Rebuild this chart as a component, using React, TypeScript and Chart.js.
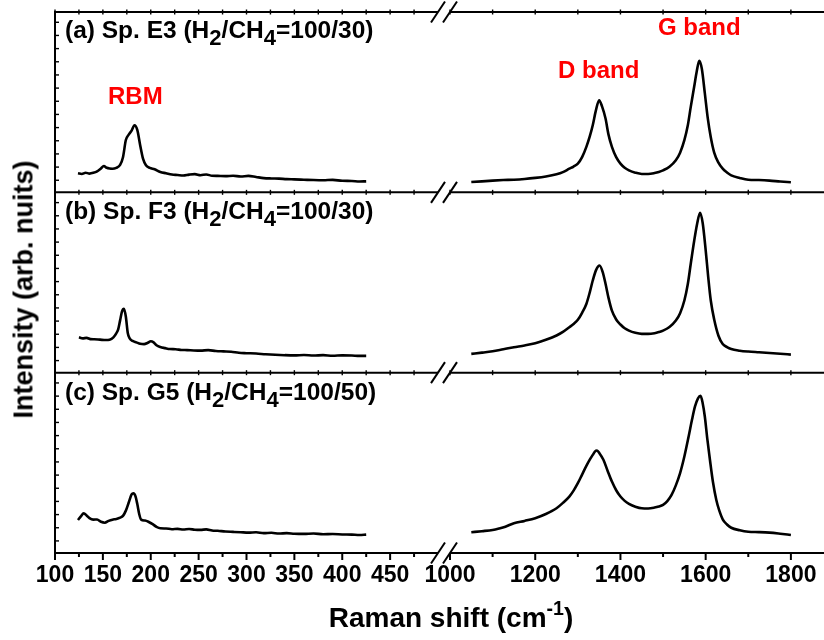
import React, { useEffect, useRef } from 'react';
import { Chart, registerables } from 'chart.js';

Chart.register(...registerables);

// ---------- data (Raman shift in cm-1, intensity in arbitrary units) ----------
// Panel (a) Sp. E3 - low-frequency (RBM) region
const aLowShift = [124, 128, 132, 136, 140, 144, 148, 151, 154, 157, 160, 164, 168, 171, 174, 177, 180, 183, 186, 189, 192, 195, 199, 204, 210, 216, 222, 228, 234, 240, 246, 252, 258, 264, 270, 278, 286, 294, 302, 310, 318, 326, 334, 342, 350, 360, 370, 380, 390, 400, 410, 418, 425];
const aLowInt = [10.6, 10.2, 10.9, 10.4, 10.8, 11.6, 13.2, 14.6, 13.6, 13.2, 13.1, 13.6, 15.2, 19.5, 29.0, 32.0, 34.2, 37.2, 34.5, 26.0, 18.5, 15.0, 13.6, 12.8, 11.3, 10.6, 9.9, 9.6, 9.3, 9.8, 10.1, 9.5, 9.9, 9.2, 9.1, 9.0, 9.2, 8.8, 9.1, 8.5, 7.9, 7.7, 7.6, 7.3, 7.2, 7.0, 6.8, 6.7, 6.9, 6.4, 6.3, 6.0, 6.1];
// Panel (a) - D and G band region
const aHighShift = [1050, 1075, 1100, 1125, 1150, 1175, 1200, 1225, 1250, 1265, 1280, 1290, 1300, 1310, 1320, 1328, 1335, 1342, 1350, 1357, 1365, 1372, 1380, 1390, 1400, 1410, 1420, 1435, 1450, 1465, 1480, 1490, 1500, 1515, 1530, 1540, 1550, 1558, 1565, 1573, 1579, 1585, 1591, 1598, 1605, 1612, 1620, 1630, 1640, 1650, 1660, 1680, 1700, 1725, 1750, 1775, 1800];
const aHighInt = [5.7, 6.1, 6.5, 6.8, 7.0, 7.4, 8.0, 8.8, 10.0, 11.2, 13.1, 14.3, 15.9, 19.5, 25.2, 31.0, 37.2, 45.0, 51.1, 47.5, 40.9, 32.0, 25.2, 19.5, 15.9, 13.6, 12.2, 10.9, 10.2, 10.2, 10.7, 11.3, 12.2, 14.2, 17.8, 22.0, 28.9, 37.0, 47.4, 58.5, 67.0, 73.0, 68.5, 55.0, 41.0, 30.5, 22.0, 16.5, 13.1, 11.0, 9.4, 8.0, 7.0, 6.8, 6.5, 6.0, 5.6];

// Panel (b) Sp. F3
const bLowShift = [125, 129, 133, 137, 141, 145, 149, 153, 157, 161, 164, 166, 168, 170, 172, 174, 176, 178, 181, 185, 189, 193, 197, 200, 203, 206, 210, 215, 220, 226, 232, 238, 245, 252, 260, 268, 276, 284, 292, 300, 310, 320, 330, 340, 350, 360, 370, 380, 390, 400, 410, 418, 425];
const bLowInt = [19.6, 19.0, 19.3, 18.6, 18.5, 18.4, 18.2, 18.1, 18.3, 19.6, 21.8, 24.0, 29.0, 34.0, 35.4, 31.0, 22.0, 19.0, 17.6, 16.8, 16.0, 15.8, 16.6, 17.4, 16.8, 15.2, 14.2, 13.6, 13.1, 13.0, 12.6, 12.5, 12.3, 12.2, 12.5, 12.0, 11.8, 11.6, 11.0, 10.8, 10.6, 10.2, 9.9, 9.7, 9.6, 9.8, 9.5, 9.7, 9.4, 9.6, 9.5, 9.3, 9.3];
const bHighShift = [1050, 1075, 1100, 1125, 1150, 1175, 1200, 1225, 1250, 1265, 1280, 1290, 1300, 1310, 1320, 1328, 1335, 1343, 1351, 1358, 1365, 1372, 1380, 1390, 1400, 1410, 1420, 1435, 1450, 1465, 1480, 1490, 1500, 1515, 1530, 1540, 1550, 1558, 1565, 1573, 1580, 1587, 1593, 1600, 1606, 1612, 1620, 1630, 1640, 1650, 1660, 1680, 1700, 1725, 1750, 1775, 1800];
const bHighInt = [10.4, 11.1, 11.9, 13.0, 14.1, 15.1, 16.3, 18.2, 20.6, 22.6, 25.2, 27.0, 29.3, 33.2, 38.1, 44.5, 51.1, 57.0, 59.4, 56.0, 49.3, 41.5, 34.4, 29.5, 26.7, 24.6, 23.3, 22.1, 21.5, 21.5, 21.9, 22.5, 23.3, 25.3, 28.9, 33.0, 40.0, 49.0, 60.4, 73.0, 82.6, 88.7, 83.0, 68.0, 53.0, 40.0, 29.5, 20.5, 15.9, 14.2, 13.1, 12.2, 11.7, 11.3, 10.9, 10.5, 10.0];

// Panel (c) Sp. G5
const cLowShift = [124, 127, 130, 133, 136, 140, 144, 148, 152, 156, 160, 164, 168, 171, 174, 177, 180, 182, 184, 186, 188, 190, 194, 198, 202, 206, 210, 216, 222, 228, 234, 240, 246, 252, 258, 264, 270, 278, 286, 294, 302, 310, 318, 326, 334, 342, 350, 360, 370, 380, 390, 400, 410, 418, 425];
const cLowInt = [18.3, 20.3, 22.0, 20.8, 19.3, 18.5, 18.6, 17.3, 16.8, 17.8, 18.5, 18.9, 19.6, 20.6, 23.5, 28.0, 32.5, 33.1, 31.5, 27.0, 21.5, 18.5, 18.0, 17.2, 16.0, 14.5, 13.7, 13.6, 13.2, 13.4, 13.0, 13.3, 12.9, 12.8, 13.1, 12.5, 12.3, 11.9, 11.7, 11.5, 11.3, 11.5, 11.0, 11.2, 10.8, 11.0, 10.7, 10.6, 10.8, 10.4, 10.5, 10.3, 10.2, 10.0, 10.2];
const cHighShift = [1050, 1075, 1100, 1115, 1130, 1150, 1175, 1200, 1225, 1250, 1265, 1280, 1290, 1300, 1310, 1320, 1328, 1335, 1340, 1345, 1351, 1360, 1370, 1380, 1390, 1400, 1410, 1420, 1435, 1450, 1465, 1480, 1490, 1500, 1510, 1520, 1530, 1540, 1550, 1560, 1568, 1575, 1582, 1588, 1593, 1598, 1604, 1610, 1617, 1625, 1632, 1640, 1650, 1660, 1680, 1700, 1725, 1750, 1775, 1800];
const cHighInt = [11.5, 12.1, 12.8, 13.6, 14.6, 16.5, 17.8, 19.3, 21.6, 24.8, 27.8, 31.3, 34.6, 38.7, 43.5, 48.3, 51.8, 54.4, 56.2, 56.8, 55.2, 51.7, 45.5, 39.6, 34.8, 31.3, 28.9, 27.2, 25.7, 24.8, 24.7, 25.2, 25.8, 26.7, 28.8, 32.2, 37.5, 44.3, 53.5, 64.6, 74.0, 81.3, 85.8, 87.2, 83.0, 75.7, 63.0, 51.7, 39.5, 29.4, 23.5, 18.7, 15.8, 14.0, 12.6, 11.8, 11.6, 11.3, 10.7, 10.0];

// ---------- axes ----------
const leftTickLabels = [100, 150, 200, 250, 300, 350, 400, 450];
const leftMinorTicks = [100, 125, 150, 175, 200, 225, 250, 275, 300, 325, 350, 375, 400, 425, 450, 475];
const rightTickLabels = [1000, 1200, 1400, 1600, 1800];
const rightMinorTicks = [1000, 1100, 1200, 1300, 1400, 1500, 1600, 1700, 1800, 1900];
const yTickValues = [6.7, 14, 21.3, 28.6, 35.9, 43.2, 50.5, 57.8, 65.1, 72.4, 79.7, 87, 94.3];

const panelLabels = [
  { tag: '(a) Sp. E3', ratio: '100/30' },
  { tag: '(b) Sp. F3', ratio: '100/30' },
  { tag: '(c) Sp. G5', ratio: '100/50' },
];

const FONT = '"Liberation Sans", Arial, Helvetica, sans-serif';

function xy(xs: number[], ys: number[]) {
  return xs.map((x, i) => ({ x, y: ys[i] }));
}

function makeFrame(side: 'left' | 'right') {
  return {
    id: 'frame-' + side,
    afterDraw(chart: any) {
      const ctx = chart.ctx as CanvasRenderingContext2D;
      const { left, right } = chart.chartArea;
      const xs = chart.scales.x;
      const panels = ['yA', 'yB', 'yC'].map((id) => chart.scales[id]);
      const top = panels[0].top;
      const bottom = panels[2].bottom;
      const borders = [panels[0].top, panels[1].top, panels[2].top, panels[2].bottom];
      const minor = side === 'left' ? leftMinorTicks : rightMinorTicks;
      const major = side === 'left' ? leftTickLabels : rightTickLabels;
      ctx.save();
      ctx.strokeStyle = '#000';
      ctx.lineWidth = 2;
      borders.forEach((y) => {
        ctx.beginPath();
        ctx.moveTo(side === 'left' ? left - 1 : left, y);
        ctx.lineTo(right, y);
        ctx.stroke();
      });
      if (side === 'left') {
        ctx.beginPath();
        ctx.moveTo(left, top - 1);
        ctx.lineTo(left, bottom + 1);
        ctx.stroke();
      }
      borders.forEach((y, bi) => {
        minor.forEach((v) => {
          const px = xs.getPixelForValue(v);
          ctx.beginPath();
          if (bi === 3) {
            ctx.lineWidth = 2;
            const len = major.includes(v) ? 7 : 4;
            ctx.moveTo(px, y);
            ctx.lineTo(px, y + len);
          } else {
            ctx.lineWidth = 1.4;
            ctx.moveTo(px, y - 2.5);
            ctx.lineTo(px, y + 2.5);
          }
          ctx.stroke();
        });
      });
      if (side === 'left') {
        ctx.lineWidth = 1.4;
        panels.forEach((s) => {
          yTickValues.forEach((v) => {
            const py = s.getPixelForValue(v);
            ctx.beginPath();
            ctx.moveTo(left, py);
            ctx.lineTo(left + 4, py);
            ctx.stroke();
          });
        });
      }
      const bx = side === 'left' ? right : left;
      ctx.lineWidth = 2;
      borders.forEach((y) => {
        ctx.beginPath();
        ctx.moveTo(bx - 7, y + 10.5);
        ctx.lineTo(bx + 7, y - 10.5);
        ctx.stroke();
      });
      ctx.restore();
    },
  };
}

function buildConfig(side: 'left' | 'right', canvasWidth: number): any {
  const isLeft = side === 'left';
  const series = isLeft
    ? [xy(aLowShift, aLowInt), xy(bLowShift, bLowInt), xy(cLowShift, cLowInt)]
    : [xy(aHighShift, aHighInt), xy(bHighShift, bHighInt), xy(cHighShift, cHighInt)];
  const ids = ['yA', 'yB', 'yC'];
  const yScale = (weight: number) => ({
    type: 'linear',
    position: 'left',
    stack: 'panels',
    stackWeight: 1,
    weight,
    min: 0,
    max: 100,
    display: false,
  });
  return {
    type: 'line',
    data: {
      datasets: series.map((d, i) => ({
        data: d,
        yAxisID: ids[i],
        borderColor: '#000',
        borderWidth: 2.6,
        pointRadius: 0,
        fill: false,
        cubicInterpolationMode: 'monotone',
      })),
    },
    options: {
      responsive: false,
      animation: false,
      devicePixelRatio: 1,
      layout: {
        padding: isLeft
          ? { left: 55, right: canvasWidth - 438, top: 12, bottom: 0 }
          : { left: 450, right: canvasWidth - 833.5, top: 12, bottom: 0 },
      },
      plugins: { legend: { display: false }, tooltip: { enabled: false }, title: { display: false } },
      scales: {
        x: {
          type: 'linear',
          min: isLeft ? 100 : 1000,
          max: isLeft ? 500 : 1900,
          grid: { display: false, drawTicks: false },
          border: { display: false },
          ticks: {
            autoSkip: false,
            maxRotation: 0,
            minRotation: 0,
            padding: 9,
            color: '#000',
            font: { family: FONT, size: 23, weight: 'bold' },
            callback: (v: any) => String(v),
          },
          afterBuildTicks: (s: any) => {
            s.ticks = (isLeft ? leftTickLabels : rightTickLabels).map((v) => ({ value: v }));
          },
          afterFit: (s: any) => {
            s.height = 87;
          },
        },
        yA: yScale(3),
        yB: yScale(2),
        yC: yScale(1),
      },
    },
    plugins: [makeFrame(side)],
  };
}

const textBase: React.CSSProperties = {
  position: 'absolute',
  fontFamily: FONT,
  fontWeight: 'bold',
  whiteSpace: 'nowrap',
  color: '#000',
};

const sub: React.CSSProperties = { fontSize: '0.9em', verticalAlign: '-7px', lineHeight: 0 };

export default function App() {
  const lRef = useRef<HTMLCanvasElement>(null);
  const rRef = useRef<HTMLCanvasElement>(null);
  useEffect(() => {
    const l = new Chart(lRef.current as HTMLCanvasElement, buildConfig('left', 824));
    const r = new Chart(rRef.current as HTMLCanvasElement, buildConfig('right', 870));
    return () => {
      l.destroy();
      r.destroy();
    };
  }, []);

  const labelTops = [18.3, 199.3, 380.3];

  return (
    <div style={{ position: 'fixed', left: 0, top: 0, width: 824, height: 640, overflow: 'hidden', background: '#fff' }}>
      <canvas ref={lRef} width={824} height={640} style={{ position: 'absolute', left: 0, top: 0 }} />
      <canvas ref={rRef} width={870} height={640} style={{ position: 'absolute', left: 0, top: 0 }} />
      {panelLabels.map((p, i) => (
        <div key={i} style={{ ...textBase, left: 65, top: labelTops[i], fontSize: 24.5, lineHeight: '24.5px' }}>
          {p.tag} (H<span style={sub}>2</span>/CH<span style={sub}>4</span>={p.ratio})
        </div>
      ))}
      <div style={{ ...textBase, color: '#ff0000', left: 108, top: 83.7, fontSize: 24, lineHeight: '24px' }}>RBM</div>
      <div style={{ ...textBase, color: '#ff0000', left: 558, top: 57.7, fontSize: 24, lineHeight: '24px' }}>D band</div>
      <div style={{ ...textBase, color: '#ff0000', left: 658, top: 14.7, fontSize: 24, lineHeight: '24px' }}>G band</div>
      <div
        style={{
          ...textBase,
          left: 251,
          top: 604.3,
          width: 400,
          textAlign: 'center',
          fontSize: 28,
          lineHeight: '28px',
        }}
      >
        Raman shift (cm<span style={{ fontSize: '0.7em', verticalAlign: '12px', lineHeight: 0 }}>-1</span>)
      </div>
      <div
        style={{
          ...textBase,
          left: -176.4,
          top: 275.5,
          width: 400,
          height: 27,
          textAlign: 'center',
          fontSize: 27,
          lineHeight: '27px',
          transform: 'rotate(-90deg)',
          transformOrigin: '50% 50%',
        }}
      >
        Intensity (arb. nuits)
      </div>
    </div>
  );
}
